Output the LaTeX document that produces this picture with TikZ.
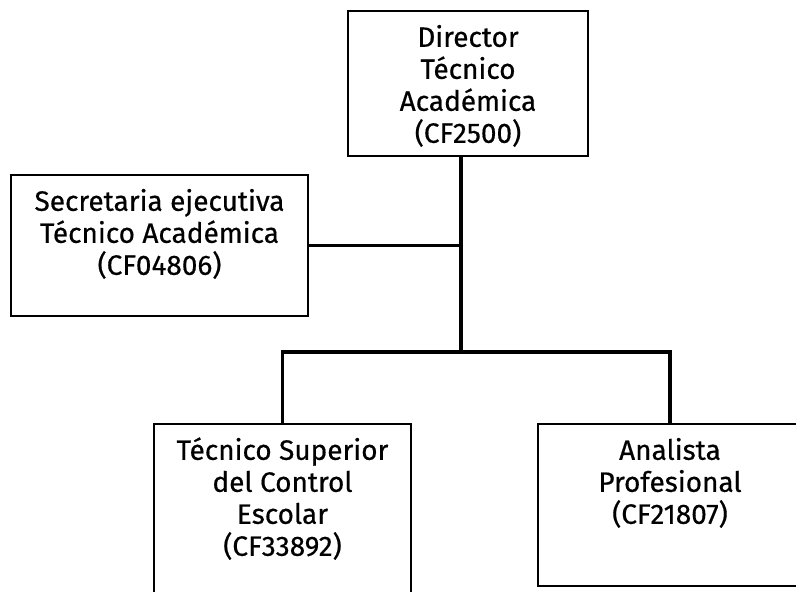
\documentclass[tikz,border=0pt]{standalone}
\usepackage{fontspec}
\newfontfamily\orgfont[FakeBold=0.5]{Fira Sans}
\usetikzlibrary{positioning}

\begin{document}
\begin{tikzpicture}[
    x=1pt, y=1pt,
    block/.style={rectangle, draw, line width=1.6pt, anchor=north, align=center, inner sep=0pt, font=\orgfont\fontsize{28}{32}\selectfont},
    link/.style={line width=3.5pt},
]
\useasboundingbox (0,0) rectangle (796,592);

% Nodes
\node [block, minimum width=240pt, text height=132pt, text depth=13pt] (dir) at (468,582) {Director\\Técnico\\Académica\\(CF2500)};
\node [block, minimum width=297pt, text height=100pt, text depth=41pt] (sec) at (159.5,418) {Secretaria ejecutiva\\Técnico Académica\\(CF04806)};
\node [block, minimum width=257pt, text height=132pt, text depth=52pt] (tsc) at (282.5,169) {Técnico Superior\\del Control\\Escolar\\(CF33892)};
\node [block, minimum width=264pt, text height=100pt, text depth=62pt] (ana) at (670,169) {Analista\\Profesional\\(CF21807)};

\coordinate (hub) at (461,240);

% Lines
\draw [link] ([xshift=-7pt]dir.south) -- (hub);
\draw [link] (sec.east) -- (sec.east -| hub);
\draw [link] (hub) -| (tsc.north);
\draw [link] (hub) -| (ana.north);

\end{tikzpicture}
\end{document}
